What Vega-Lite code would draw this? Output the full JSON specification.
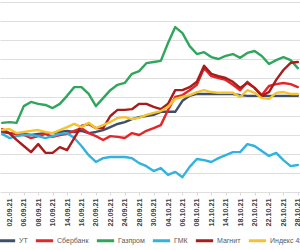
{
  "$schema": "https://vega.github.io/schema/vega-lite/v6.json",
  "width": 300,
  "height": 190,
  "autosize": {"type": "none"},
  "padding": {"left": 0, "top": 2, "right": 0, "bottom": 58},
  "background": "white",
  "data": {
    "values": [
      {"d": "01.09.21", "УТ": 0.8, "Сбербанк": 1.6, "Газпром": 3.2, "ГМК": 0.3, "Магнит": 1.1, "Индекс 4х бумаг": 1.3},
      {"d": "02.09.21", "УТ": 0.5, "Сбербанк": 0.5, "Газпром": 3.4, "ГМК": -0.8, "Магнит": 0.5, "Индекс 4х бумаг": 1.6},
      {"d": "03.09.21", "УТ": 0.3, "Сбербанк": 0.3, "Газпром": 3.2, "ГМК": -0.3, "Магнит": -1.3, "Индекс 4х бумаг": 0.5},
      {"d": "06.09.21", "УТ": 0.3, "Сбербанк": 0.0, "Газпром": 7.6, "ГМК": 0.0, "Магнит": -2.9, "Индекс 4х бумаг": 0.8},
      {"d": "07.09.21", "УТ": 0.0, "Сбербанк": -0.8, "Газпром": 8.7, "ГМК": 0.0, "Магнит": -4.5, "Индекс 4х бумаг": 1.1},
      {"d": "08.09.21", "УТ": 0.3, "Сбербанк": -0.3, "Газпром": 8.2, "ГМК": -0.3, "Магнит": -2.4, "Индекс 4х бумаг": 1.3},
      {"d": "09.09.21", "УТ": 0.5, "Сбербанк": 0.3, "Газпром": 7.9, "ГМК": -0.8, "Магнит": -4.7, "Индекс 4х бумаг": 0.8},
      {"d": "10.09.21", "УТ": 0.5, "Сбербанк": -0.5, "Газпром": 7.1, "ГМК": -0.3, "Магнит": -4.7, "Индекс 4х бумаг": 0.5},
      {"d": "13.09.21", "УТ": 0.8, "Сбербанк": 0.0, "Газпром": 8.2, "ГМК": 0.3, "Магнит": -3.2, "Индекс 4х бумаг": 1.3},
      {"d": "14.09.21", "УТ": 1.1, "Сбербанк": 0.3, "Газпром": 10.3, "ГМК": 0.5, "Магнит": -4.0, "Индекс 4х бумаг": 2.1},
      {"d": "15.09.21", "УТ": 0.8, "Сбербанк": 1.1, "Газпром": 12.6, "ГМК": -0.8, "Магнит": -0.8, "Индекс 4х бумаг": 2.9},
      {"d": "16.09.21", "УТ": 1.1, "Сбербанк": 1.8, "Газпром": 12.6, "ГМК": -2.9, "Магнит": 2.4, "Индекс 4х бумаг": 2.1},
      {"d": "17.09.21", "УТ": 0.5, "Сбербанк": 0.5, "Газпром": 10.8, "ГМК": -5.3, "Магнит": 2.9, "Индекс 4х бумаг": 3.2},
      {"d": "20.09.21", "УТ": 0.8, "Сбербанк": -0.3, "Газпром": 7.6, "ГМК": -7.1, "Магнит": 1.8, "Индекс 4х бумаг": 1.8},
      {"d": "21.09.21", "УТ": 1.3, "Сбербанк": -1.3, "Газпром": 9.7, "ГМК": -6.1, "Магнит": 1.8, "Индекс 4х бумаг": 2.6},
      {"d": "22.09.21", "УТ": 2.1, "Сбербанк": -0.3, "Газпром": 11.8, "ГМК": -5.8, "Магнит": 5.0, "Индекс 4х бумаг": 3.4},
      {"d": "23.09.21", "УТ": 2.9, "Сбербанк": -0.5, "Газпром": 13.2, "ГМК": -5.8, "Магнит": 6.6, "Индекс 4х бумаг": 4.5},
      {"d": "24.09.21", "УТ": 3.4, "Сбербанк": -0.8, "Газпром": 13.7, "ГМК": -5.8, "Магнит": 6.6, "Индекс 4х бумаг": 4.7},
      {"d": "27.09.21", "УТ": 4.2, "Сбербанк": 0.5, "Газпром": 16.1, "ГМК": -6.1, "Магнит": 6.8, "Индекс 4х бумаг": 4.2},
      {"d": "28.09.21", "УТ": 4.7, "Сбербанк": 0.0, "Газпром": 16.8, "ГМК": -7.4, "Магнит": 8.2, "Индекс 4х бумаг": 4.5},
      {"d": "29.09.21", "УТ": 5.0, "Сбербанк": 1.1, "Газпром": 18.9, "ГМК": -8.2, "Магнит": 8.2, "Индекс 4х бумаг": 5.3},
      {"d": "30.09.21", "УТ": 5.3, "Сбербанк": 1.8, "Газпром": 19.2, "ГМК": -9.5, "Магнит": 7.4, "Индекс 4х бумаг": 5.8},
      {"d": "01.10.21", "УТ": 6.1, "Сбербанк": 2.6, "Газпром": 19.5, "ГМК": -8.7, "Магнит": 6.8, "Индекс 4х бумаг": 6.3},
      {"d": "04.10.21", "УТ": 6.1, "Сбербанк": 6.6, "Газпром": 24.2, "ГМК": -10.5, "Магнит": 8.2, "Индекс 4х бумаг": 7.4},
      {"d": "05.10.21", "УТ": 6.1, "Сбербанк": 10.0, "Газпром": 28.4, "ГМК": -9.7, "Магнит": 11.8, "Индекс 4х бумаг": 9.5},
      {"d": "06.10.21", "УТ": 9.0, "Сбербанк": 10.5, "Газпром": 26.8, "ГМК": -11.1, "Магнит": 11.8, "Индекс 4х бумаг": 10.0},
      {"d": "07.10.21", "УТ": 10.3, "Сбербанк": 11.8, "Газпром": 23.4, "ГМК": -8.4, "Магнит": 12.6, "Индекс 4х бумаг": 10.5},
      {"d": "08.10.21", "УТ": 10.8, "Сбербанк": 13.2, "Газпром": 21.3, "ГМК": -6.3, "Магнит": 14.0, "Индекс 4х бумаг": 11.3},
      {"d": "11.10.21", "УТ": 10.8, "Сбербанк": 17.6, "Газпром": 21.8, "ГМК": -6.6, "Магнит": 18.2, "Индекс 4х бумаг": 11.8},
      {"d": "12.10.21", "УТ": 10.8, "Сбербанк": 15.5, "Газпром": 20.5, "ГМК": -7.1, "Магнит": 16.1, "Индекс 4х бумаг": 11.3},
      {"d": "13.10.21", "УТ": 10.8, "Сбербанк": 15.0, "Газпром": 20.0, "ГМК": -6.1, "Магнит": 15.5, "Индекс 4х бумаг": 11.1},
      {"d": "14.10.21", "УТ": 10.8, "Сбербанк": 14.5, "Газпром": 20.8, "ГМК": -5.3, "Магнит": 15.0, "Индекс 4х бумаг": 11.1},
      {"d": "15.10.21", "УТ": 10.8, "Сбербанк": 13.2, "Газпром": 21.3, "ГМК": -4.5, "Магнит": 14.0, "Индекс 4х бумаг": 11.1},
      {"d": "18.10.21", "УТ": 10.5, "Сбербанк": 11.8, "Газпром": 20.3, "ГМК": -4.5, "Магнит": 12.4, "Индекс 4х бумаг": 10.0},
      {"d": "19.10.21", "УТ": 10.3, "Сбербанк": 14.0, "Газпром": 21.6, "ГМК": -2.4, "Магнит": 13.7, "Индекс 4х бумаг": 11.8},
      {"d": "20.10.21", "УТ": 10.3, "Сбербанк": 12.4, "Газпром": 22.1, "ГМК": -2.9, "Магнит": 12.4, "Индекс 4х бумаг": 11.1},
      {"d": "21.10.21", "УТ": 10.3, "Сбербанк": 10.5, "Газпром": 20.8, "ГМК": -4.2, "Магнит": 10.3, "Индекс 4х бумаг": 9.7},
      {"d": "22.10.21", "УТ": 10.3, "Сбербанк": 12.9, "Газпром": 18.7, "ГМК": -5.5, "Магнит": 11.3, "Индекс 4х бумаг": 9.5},
      {"d": "25.10.21", "УТ": 10.3, "Сбербанк": 13.4, "Газпром": 19.7, "ГМК": -4.7, "Магнит": 14.5, "Индекс 4х бумаг": 11.1},
      {"d": "26.10.21", "УТ": 10.3, "Сбербанк": 13.7, "Газпром": 20.5, "ГМК": -6.6, "Магнит": 17.1, "Индекс 4х бумаг": 11.3},
      {"d": "27.10.21", "УТ": 10.3, "Сбербанк": 13.4, "Газпром": 19.7, "ГМК": -8.2, "Магнит": 19.0, "Индекс 4х бумаг": 10.8},
      {"d": "28.10.21", "УТ": 10.3, "Сбербанк": 12.6, "Газпром": 17.6, "ГМК": -7.9, "Магнит": 19.2, "Индекс 4х бумаг": 10.8}
    ]
  },
  "transform": [
    {"fold": ["УТ", "Сбербанк", "Газпром", "ГМК", "Магнит", "Индекс 4х бумаг"], "as": ["s", "v"]}
  ],
  "mark": {"type": "line", "strokeWidth": 2.4, "strokeJoin": "round", "strokeCap": "round"},
  "encoding": {
    "x": {
      "field": "d", "type": "ordinal", "sort": null,
      "scale": {"type": "point", "padding": 0.3},
      "axis": {
        "title": null,
        "values": ["02.09.21","06.09.21","08.09.21","10.09.21","14.09.21","16.09.21","20.09.21","22.09.21","24.09.21","28.09.21","30.09.21","04.10.21","06.10.21","08.10.21","12.10.21","14.10.21","18.10.21","20.10.21","22.10.21","26.10.21","28.10.21"],
        "labelAngle": -90,
        "labelFont": "Liberation Sans",
        "labelFontSize": 7.2,
        "labelFontWeight": "bold",
        "labelColor": "#404040",
        "labelPadding": 3,
        "domain": false,
        "ticks": true,
        "tickColor": "#d9d9d9",
        "tickSize": 3,
        "grid": false
      }
    },
    "y": {
      "field": "v", "type": "quantitative",
      "scale": {"domain": [-15, 35], "nice": false, "zero": false},
      "axis": {
        "title": null,
        "labels": false,
        "ticks": false,
        "domain": false,
        "grid": true,
        "gridColor": "#dedede",
        "gridWidth": 1,
        "values": [-15, -10, -5, 0, 5, 10, 15, 20, 25, 30, 35]
      }
    },
    "color": {
      "field": "s", "type": "nominal",
      "scale": {
        "domain": ["УТ", "Сбербанк", "Газпром", "ГМК", "Магнит", "Индекс 4х бумаг"],
        "range": ["#3f4f6b", "#e3262a", "#2fa65c", "#32b2de", "#a81c1c", "#f4c430"]
      },
      "legend": {
        "title": null,
        "orient": "none",
        "legendX": -4,
        "legendY": 228,
        "direction": "horizontal",
        "symbolType": "stroke",
        "symbolSize": 300,
        "symbolStrokeWidth": 3,
        "labelFont": "Liberation Sans",
        "labelFontSize": 7,
        "labelColor": "#595959",
        "labelOffset": 2,
        "columnPadding": 1
      }
    }
  },
  "config": {"view": {"stroke": null}}
}
